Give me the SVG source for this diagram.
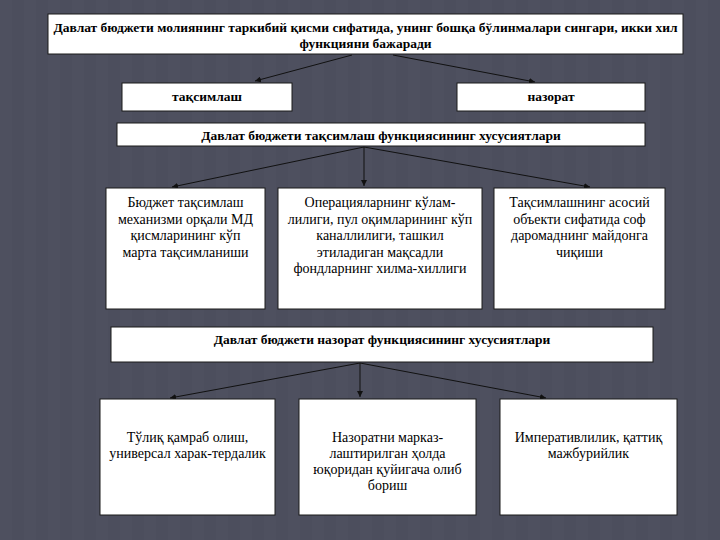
<svg xmlns="http://www.w3.org/2000/svg" width="720" height="540" viewBox="0 0 720 540">
<defs>
<marker id="arr" viewBox="0 0 10 10" refX="10" refY="5" markerWidth="6" markerHeight="6" orient="auto" markerUnits="userSpaceOnUse">
<path d="M0,0 L10,5 L0,10 z" fill="#111"/>
</marker>
<pattern id="stripes" width="24" height="540" patternUnits="userSpaceOnUse">
<rect width="24" height="540" fill="#4c4e5d"/>
<rect x="0" width="12" height="540" fill="#4e505f"/>
</pattern>
</defs>
<style>
.box{fill:#ffffff;stroke:#1a1a1a;stroke-width:1}
text{font-family:'Liberation Serif','DejaVu Serif','Noto Serif',serif;fill:#000;text-anchor:middle}
.b{font-weight:bold;font-size:13.5px}
.r{font-size:14px}
.c{stroke:#111;stroke-width:1;fill:none;marker-end:url(#arr)}
</style>
<rect width="720" height="540" fill="url(#stripes)"/>
<g id="connectors">
<line class="c" x1="352" y1="55" x2="255" y2="81"/>
<line class="c" x1="393" y1="55" x2="535" y2="82"/>
<line class="c" x1="364" y1="147" x2="172" y2="187"/>
<line class="c" x1="364" y1="147" x2="364" y2="186"/>
<line class="c" x1="364" y1="147" x2="590" y2="187"/>
<line class="c" x1="360" y1="363" x2="170" y2="398"/>
<line class="c" x1="360" y1="363" x2="360" y2="397"/>
<line class="c" x1="360" y1="363" x2="546" y2="398"/>
</g>
<g id="top">
<rect class="box" x="48" y="14" width="635" height="40"/>
<text class="b" x="365.5" y="32">Давлат бюджети молиянинг таркибий қисми сифатида, унинг бошқа бўлинмалари сингари, икки хил</text>
<text class="b" x="365.5" y="48">функцияни бажаради</text>
</g>
<g id="taqsimlash">
<rect class="box" x="122" y="83" width="170" height="28"/>
<text class="b" x="207" y="101">тақсимлаш</text>
</g>
<g id="nazorat">
<rect class="box" x="457" y="83" width="188" height="28"/>
<text class="b" x="551" y="101">назорат</text>
</g>
<g id="taqsimlash-xususiyat">
<rect class="box" x="117" y="123" width="528" height="23"/>
<text class="b" x="381" y="140">Давлат бюджети тақсимлаш функциясининг хусусиятлари</text>
</g>
<g id="boxA">
<rect class="box" x="106" y="188" width="159" height="121"/>
<text class="r" x="185.5" y="207">Бюджет тақсимлаш</text>
<text class="r" x="185.5" y="223.5">механизми орқали МД</text>
<text class="r" x="185.5" y="240">қисмларининг кўп</text>
<text class="r" x="185.5" y="256.5">марта тақсимланиши</text>
</g>
<g id="boxB">
<rect class="box" x="278" y="188" width="204" height="121"/>
<text class="r" x="380" y="207">Операцияларнинг кўлам-</text>
<text class="r" x="380" y="223.5">лилиги, пул оқимларининг кўп</text>
<text class="r" x="380" y="240">каналлилиги, ташкил</text>
<text class="r" x="380" y="256.5">этиладиган мақсадли</text>
<text class="r" x="380" y="273">фондларнинг хилма-хиллиги</text>
</g>
<g id="boxC">
<rect class="box" x="494" y="188" width="171" height="121"/>
<text class="r" x="579.5" y="207">Тақсимлашнинг асосий</text>
<text class="r" x="579.5" y="223.5">объекти сифатида соф</text>
<text class="r" x="579.5" y="240">даромаднинг майдонга</text>
<text class="r" x="579.5" y="256.5">чиқиши</text>
</g>
<g id="nazorat-xususiyat">
<rect class="box" x="111" y="327" width="542" height="35"/>
<text class="b" x="382" y="344">Давлат бюджети назорат функциясининг хусусиятлари</text>
</g>
<g id="boxD">
<rect class="box" x="100" y="399" width="175" height="116"/>
<text class="r" x="187.5" y="442">Тўлиқ қамраб олиш,</text>
<text class="r" x="187.5" y="458">универсал харак-тердалик</text>
</g>
<g id="boxE">
<rect class="box" x="299" y="399" width="177" height="116"/>
<text class="r" x="387.5" y="442">Назоратни марказ-</text>
<text class="r" x="387.5" y="458">лаштирилган ҳолда</text>
<text class="r" x="387.5" y="474">юқоридан қуйигача олиб</text>
<text class="r" x="387.5" y="490">бориш</text>
</g>
<g id="boxF">
<rect class="box" x="500" y="399" width="177" height="116"/>
<text class="r" x="588.5" y="442">Императивлилик, қаттиқ</text>
<text class="r" x="588.5" y="458">мажбурийлик</text>
</g>
</svg>
